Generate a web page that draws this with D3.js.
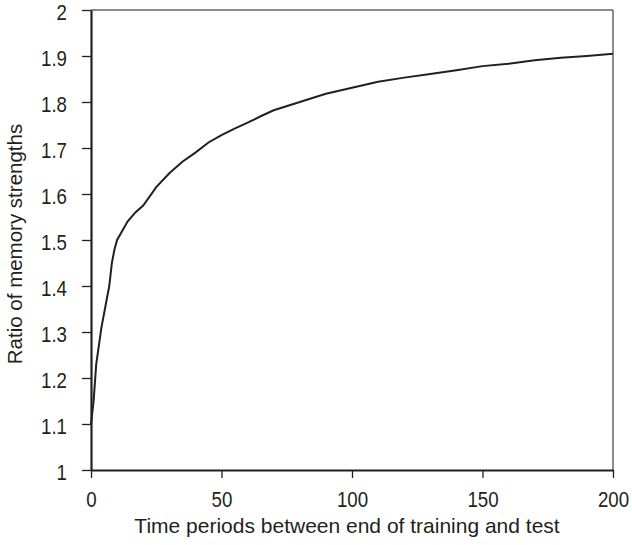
<!DOCTYPE html>
<html><head><meta charset="utf-8">
<script src="https://cdn.jsdelivr.net/npm/d3@7/dist/d3.min.js"></script>
<style>body{margin:0;background:#fff}svg{display:block}text{font-family:"Liberation Sans",Arial,sans-serif;fill:#231f20}</style>
</head><body><svg id="c" width="632" height="545"></svg>
<script>
const xValues = [0,1,2,3,4,5,6,7,8,9,10,12,14,17,20,25,30,35,40,45,50,55,60,65,70,80,90,100,110,120,130,140,150,160,170,180,190,200];
const yValues = [1.10,1.15,1.23,1.27,1.31,1.34,1.37,1.40,1.45,1.48,1.50,1.52,1.54,1.56,1.575,1.615,1.645,1.67,1.69,1.712,1.728,1.742,1.755,1.769,1.782,1.80,1.818,1.831,1.844,1.853,1.861,1.869,1.878,1.883,1.891,1.896,1.900,1.905];
const xTicks = [0,50,100,150,200];
const yTicks = [1,1.1,1.2,1.3,1.4,1.5,1.6,1.7,1.8,1.9,2];
const xTitle = "Time periods between end of training and test";
const yTitle = "Ratio of memory strengths";

const L=91,R=613,T=10,B=470;
const svg=d3.select("#c");
const x=d3.scaleLinear().domain([0,200]).range([L,R]);
const y=d3.scaleLinear().domain([1,2]).range([B,T]);

// top & right frame
svg.append("line").attr("x1",L).attr("x2",R).attr("y1",T).attr("y2",T).attr("stroke","#666").attr("stroke-width",1.5);
svg.append("line").attr("x1",R).attr("x2",R).attr("y1",T).attr("y2",B).attr("stroke","#666").attr("stroke-width",1.5);

const xa=svg.append("g").attr("transform",`translate(0,${B})`)
  .call(d3.axisBottom(x).tickValues(xTicks).tickSize(8).tickSizeOuter(0).tickPadding(13).tickFormat(d3.format("d")));
const ya=svg.append("g").attr("transform",`translate(${L},0)`)
  .call(d3.axisLeft(y).tickValues(yTicks).tickSize(9).tickSizeOuter(0).tickPadding(15).tickFormat(d=>String(+d.toFixed(1))));
[xa,ya].forEach(g=>{
  g.select(".domain").attr("stroke","#231f20").attr("stroke-width",2.2);
  g.selectAll(".tick line").attr("stroke","#231f20").attr("stroke-width",1.3);
  g.selectAll("text").style("font-size","22px").attr("fill","#231f20").each(function(){
    const t=d3.select(this); const tx=+t.attr("x")||0;
    t.attr("x",0).attr("transform",`translate(${tx},0) scale(0.85,1)`);
  });
});
ya.selectAll("text").attr("dy","0.45em");

const data=xValues.map((v,i)=>[v,yValues[i]]);
svg.append("path").datum(data)
  .attr("d",d3.line().x(d=>x(d[0])).y(d=>y(d[1])))
  .attr("fill","none").attr("stroke","#231f20").attr("stroke-width",2);

svg.append("text").attr("x",347).attr("y",533).attr("text-anchor","middle").style("font-size","21px").text(xTitle);
svg.append("text").attr("transform",`translate(21.5,244) rotate(-90)`).attr("text-anchor","middle").style("font-size","20.5px").text(yTitle);
</script></body></html>
